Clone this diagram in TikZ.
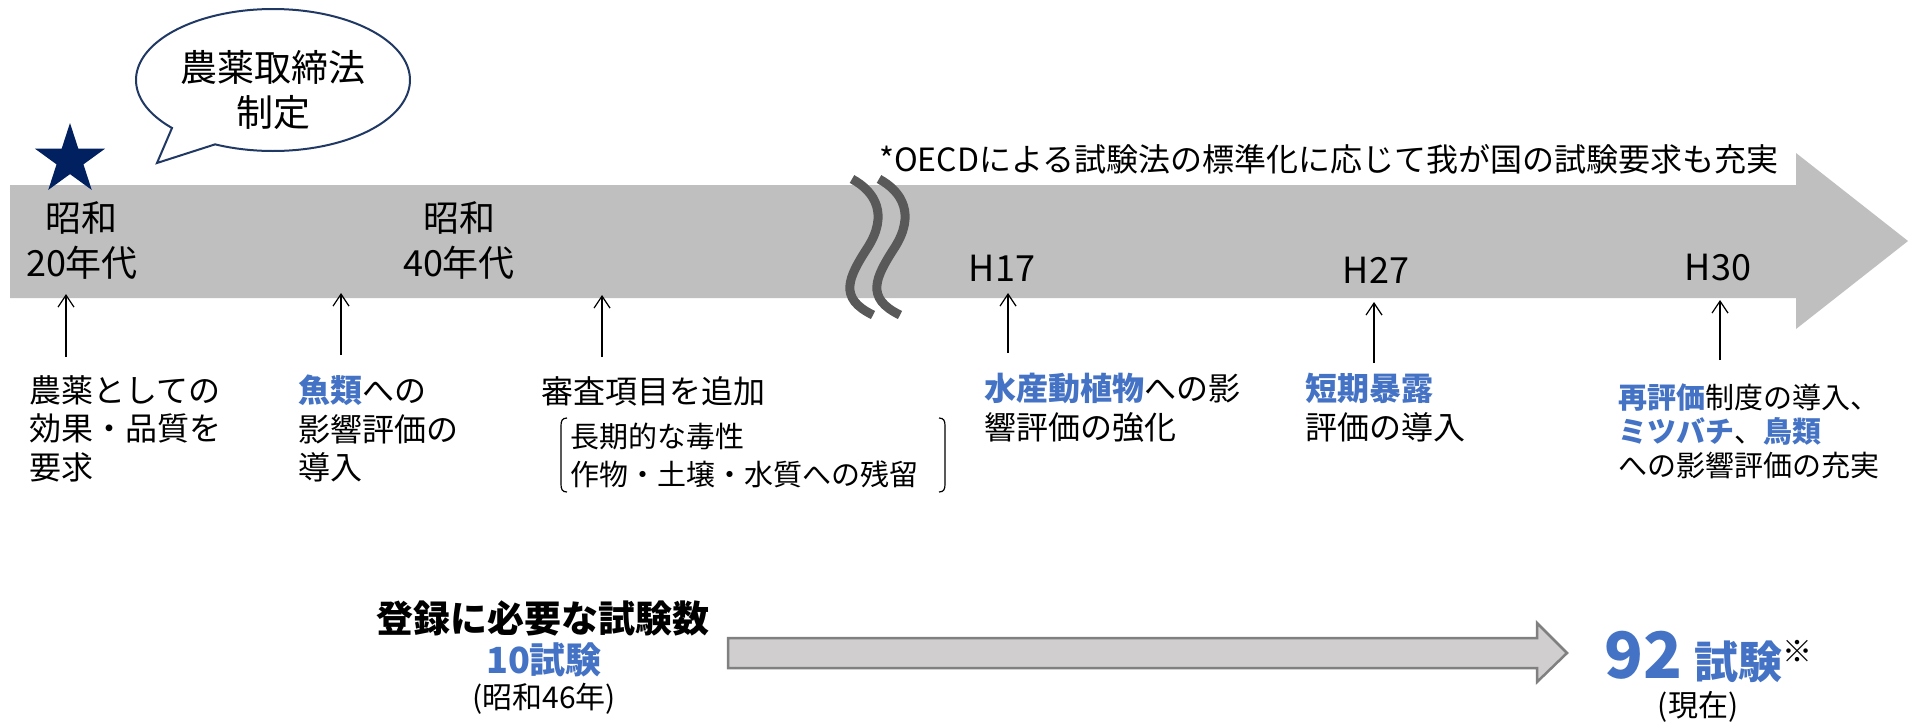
\documentclass[tikz,border=0pt]{standalone}
\usepackage{fontspec}
\setmainfont{Noto Sans CJK JP}
\usetikzlibrary{arrows.meta,shapes.geometric}
\definecolor{barc}{HTML}{BFBFBF}
\definecolor{navy}{HTML}{002060}
\definecolor{bubc}{HTML}{1F3864}
\definecolor{ablue}{HTML}{4472C4}
\definecolor{wavec}{HTML}{595959}
\definecolor{arrfill}{HTML}{D0CECE}
\definecolor{arrdraw}{HTML}{808080}
\newcommand\fsz[2]{\fontsize{#1}{#2}\selectfont}
\newcommand\bluebf[1]{{\bfseries\color{ablue}#1}}
\tikzset{
  wave/.style={draw=wavec, line width=9pt},
  up/.style={-{Straight Barb[length=12pt,width=16pt]}, line width=1.2pt},
  lbl/.style={inner sep=0pt, align=left, text=black},
  yr/.style={inner sep=0pt, align=center, font=\fsz{36}{45}},
  hy/.style={inner sep=0pt, font=\fsz{36}{45}},
  bubstyle/.style={draw=bubc, line width=2pt, fill=white, line join=miter},
}
\begin{document}
\begin{tikzpicture}[x=1pt,y=-1pt]
\useasboundingbox (0,0) rectangle (1908,723);
\fill[white] (0,0) rectangle (1908,723);

% main timeline arrow
\fill[barc] (10,185) -- (1796,185) -- (1796,153) -- (1908,241) -- (1796,329) -- (1796,298) -- (10,298) -- cycle;

% break marks
\draw[wave] (852,179) .. controls (876,192) and (888,215) .. (868,247) .. controls (848,278) and (838,298) .. (873,315);
\draw[wave] (879,179) .. controls (903,192) and (915,215) .. (895,247) .. controls (875,278) and (865,298) .. (900,315);

% star and speech bubble
\node[star, star points=5, star point ratio=2.618, fill=navy, minimum size=74pt, inner sep=0pt] (star) at (70,160) {};
\draw[bubstyle] plot[domain=137.5:475, samples=150] ({273+137*cos(\x)}, {80+71*sin(\x)}) -- (157,163) -- cycle;
\node[inner sep=0pt, align=center, font=\fsz{37}{45}] (bubtext) at (273,90) {農薬取締法\\制定};

% year labels
\node[yr] (s20) at (82,241) {昭和\\20年代};
\node[yr] (s40) at (459,241) {昭和\\40年代};
\node[hy] (h17) at (1002,268) {H17};
\node[hy] (h27) at (1376,270) {H27};
\node[hy] (h30) at (1718,268) {H30};
\node[inner sep=0pt, anchor=west, font=\fsz{32}{40}] (oecd) at (879,159) {*OECDによる試験法の標準化に応じて我が国の試験要求も充実};

% annotation texts
\node[lbl, anchor=north west, font=\fsz{32}{38.5}] (t1) at (29,375) {農薬としての\\効果・品質を\\要求};
\node[lbl, anchor=north west, font=\fsz{32}{38.5}] (t2) at (298,375) {\bluebf{魚類}への\\影響評価の\\導入};
\node[lbl, anchor=west, font=\fsz{32}{40}] (t3) at (541,391) {審査項目を追加};
\node[lbl, anchor=north west, font=\fsz{29}{38}] (t3b) at (570,423) {長期的な毒性\\作物・土壌・水質への残留};
\node[lbl, anchor=north west, font=\fsz{32}{39}] (t4) at (984,373) {\bluebf{水産動植物}への影\\響評価の強化};
\node[lbl, anchor=north west, font=\fsz{32}{39}] (t5) at (1305,373) {\bluebf{短期暴露}\\評価の導入};
\node[lbl, anchor=north west, font=\fsz{29}{34}] (t6) at (1618,384) {\bluebf{再評価}制度の導入、\\\bluebf{ミツバチ}、\bluebf{鳥類}\\への影響評価の充実};

% brackets
\draw[line width=1.2pt] (567,418) .. controls (562,418) and (561,421) .. (561,426) -- (561,484) .. controls (561,489) and (562,492) .. (567,492);
\draw[line width=1.2pt] (939,418) .. controls (944,418) and (945,421) .. (945,426) -- (945,484) .. controls (945,489) and (944,492) .. (939,492);

% annotation arrows
\coordinate (a1b) at (66,357);  \coordinate (a1t) at (66,294);
\coordinate (a2b) at (341,355); \coordinate (a2t) at (341,293);
\coordinate (a3b) at (602,357); \coordinate (a3t) at (602,295);
\coordinate (a4b) at (1008,353); \coordinate (a4t) at (1008,293);
\coordinate (a5b) at (1374,363); \coordinate (a5t) at (1374,302);
\coordinate (a6b) at (1720,360); \coordinate (a6t) at (1720,300);
\foreach \i in {1,...,6} { \draw[up] (a\i b) -- (a\i t); }

% bottom part
\node[inner sep=0pt, font=\fsz{37}{40}\bfseries] (reg) at (543,618) {登録に必要な試験数};
\node[inner sep=0pt, font=\fsz{36}{40}\bfseries, text=ablue] (ten) at (544,660) {10試験};
\node[inner sep=0pt, font=\fsz{30}{34}] (s46) at (544,699) {(昭和46年)};

\fill[arrfill, draw=arrdraw, line width=2.5pt] (728,638) -- (1537,638) -- (1537,623) -- (1567,653) -- (1537,682) -- (1537,668) -- (728,668) -- cycle;

\node[inner sep=0pt, anchor=base west, text=ablue] (ninety) at (1604,678)
  {{\fsz{64}{66}\bfseries 92}\hspace{12pt}{\fsz{44}{48}\bfseries 試験}\raisebox{16pt}{\fsz{30}{34}\color{black}※}};
\node[inner sep=0pt, font=\fsz{30}{34}] (now) at (1698,707) {(現在)};
\end{tikzpicture}
\end{document}
